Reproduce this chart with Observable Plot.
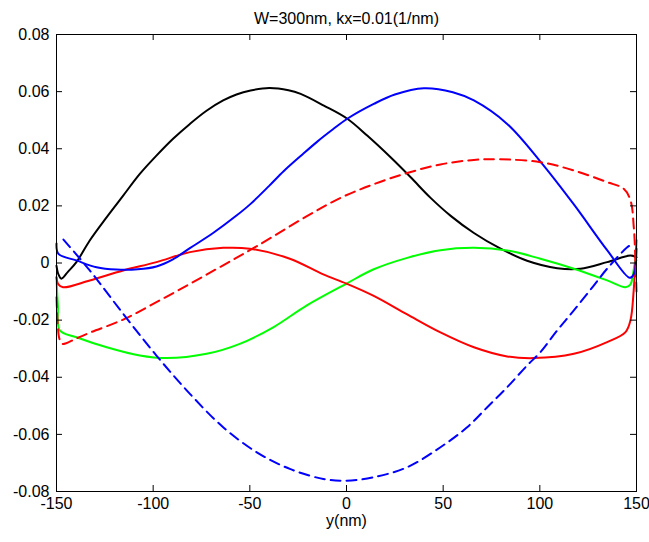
<!DOCTYPE html>
<html><head><meta charset="utf-8">
<script src="https://cdn.jsdelivr.net/npm/d3@7"></script>
<script src="https://cdn.jsdelivr.net/npm/@observablehq/plot@0.6"></script>
<style>body{margin:0;background:#fff}</style>
</head><body><div id="chart"></div>
<script>
const titleText = "W=300nm, kx=0.01(1/nm)";
const xLabel = "y(nm)";
const xTicks = [-150, -100, -50, 0, 50, 100, 150];
const yTicks = [-0.08, -0.06, -0.04, -0.02, 0, 0.02, 0.04, 0.06, 0.08];

// [y (nm), value]
const blackSolid = [[-150,-0.001],[-149,-0.004],[-147.5,-0.0055],[-144,-0.003],[-139.7,0.0003],[-132.8,0.0079],[-124.1,0.016],[-115.5,0.0236],[-106.9,0.0312],[-98.3,0.0376],[-89.7,0.0435],[-81,0.0487],[-72.4,0.0533],[-63.8,0.0569],[-56.9,0.059],[-49.6,0.0604],[-40,0.0613],[-30,0.0605],[-23.7,0.0592],[-11.7,0.0551],[0.4,0.0505],[10.7,0.0446],[22.8,0.037],[33.2,0.030],[43.5,0.0228],[53.9,0.0165],[65.9,0.0105],[79.7,0.005],[93.4,0.0008],[109,-0.0018],[121,-0.002],[134.8,0.0003],[146.9,0.0026],[150,0.002]];
const blueSolid = [[-150,0.0068],[-149,0.0032],[-139.7,0.0009],[-129.3,-0.0015],[-119,-0.0023],[-108,-0.0022],[-98.3,-0.0012],[-90,0.0012],[-81,0.0052],[-69,0.0105],[-56.9,0.0166],[-49.6,0.0207],[-40,0.027],[-32.4,0.0322],[-22.8,0.038],[-15.1,0.0425],[-7,0.0468],[0.4,0.0505],[14.1,0.0557],[25,0.059],[40,0.0612],[55,0.0598],[65.9,0.0569],[83.1,0.0487],[100.3,0.0355],[117.6,0.0205],[134.8,0.0045],[146.5,-0.0052],[148.5,-0.004],[150,0.005]];
const redSolid = [[-150,-0.005],[-149,-0.0075],[-146.6,-0.0085],[-132.8,-0.0061],[-115.5,-0.0026],[-98.3,0.0003],[-81,0.0038],[-63.8,0.0053],[-50,0.005],[-29.3,0.0015],[-12,-0.004],[0,-0.0072],[14.1,-0.0115],[31.4,-0.018],[48.6,-0.0243],[65.9,-0.0295],[83.1,-0.0327],[96.9,-0.0333],[117.6,-0.0318],[134.8,-0.0277],[144.3,-0.0242],[146.9,-0.020],[148.5,-0.01],[150,0.008]];
const greenSolid = [[-150,-0.005],[-149.3,-0.015],[-148.3,-0.0236],[-139.7,-0.026],[-124,-0.0295],[-106.9,-0.0324],[-93.1,-0.0333],[-72.4,-0.0318],[-55.2,-0.0283],[-37.9,-0.0225],[-20.7,-0.0149],[0,-0.0072],[14.1,-0.0022],[31.4,0.0018],[48.6,0.0045],[65.9,0.0053],[83.1,0.0044],[100.3,0.0015],[117.6,-0.002],[134.8,-0.0061],[144.3,-0.0085],[146.9,-0.0075],[149.5,0.0009],[150,0.001]];
const redDashed = [[-150,-0.012],[-149.4,-0.021],[-148.5,-0.0265],[-147,-0.0283],[-145,-0.0281],[-140,-0.0265],[-132.8,-0.0244],[-115.5,-0.0198],[-98.3,-0.0137],[-81,-0.0073],[-63.8,-0.0008],[-46.6,0.0058],[-20.7,0.0163],[-3.1,0.0228],[14.1,0.0276],[31.4,0.0315],[48.6,0.0345],[65.9,0.0361],[79.7,0.0363],[100.3,0.0353],[117.6,0.0324],[134.8,0.0283],[143.4,0.026],[146.9,0.0219],[148.6,0.0125],[149.5,0.0],[150,-0.01]];
const blueDashed = [[-146.4,0.0082],[-132.8,-0.0026],[-115.5,-0.0178],[-98.3,-0.0324],[-81,-0.0458],[-63.8,-0.0575],[-46.6,-0.0662],[-29.3,-0.0721],[-12,-0.0756],[0,-0.0762],[14.1,-0.075],[31.4,-0.0715],[48.6,-0.0645],[62.4,-0.0575],[72.8,-0.0505],[83.1,-0.0435],[93.4,-0.0359],[100.3,-0.0312],[109,-0.0236],[117.6,-0.0166],[127.9,-0.0079],[134.8,-0.002],[145.2,0.0055],[147.5,0.0065]];

const series = [
  {name:"black", pts:blackSolid, color:"#000000", dash:null},
  {name:"green", pts:greenSolid, color:"#00ff00", dash:null},
  {name:"red", pts:redSolid, color:"#ff0000", dash:null},
  {name:"blue", pts:blueSolid, color:"#0000ff", dash:null},
  {name:"redDashed", pts:redDashed, color:"#ff0000", dash:"10,6"},
  {name:"blueDashed", pts:blueDashed, color:"#0000ff", dash:"10,6"}
];

const W = 649, H = 542, mL = 56, mR = 13, mT = 34, mB = 51;
const plotW = W - mL - mR, plotH = H - mT - mB, tick = 6;
const fontSize = 16;

const lineMarks = series.map(s => Plot.line(s.pts, {
  x: d => d[0], y: d => d[1], stroke: s.color, strokeWidth: 2,
  strokeDasharray: s.dash, curve: "catmull-rom"
}));

const chart = Plot.plot({
  width: W, height: H,
  marginLeft: mL, marginRight: mR, marginTop: mT, marginBottom: mB,
  style: {fontFamily: "'Liberation Sans', Arial, sans-serif", fontSize: fontSize + "px", background: "#fff", color: "#000"},
  x: {domain: [-150, 150]},
  y: {domain: [-0.08, 0.08]},
  marks: [
    ...lineMarks,
    Plot.frame({stroke: "#000", strokeWidth: 1}),
    Plot.ruleX(xTicks, {x: d => d, y1: 0.08, y2: -0.08, insetTop: plotH - tick, stroke: "#000"}),
    Plot.ruleX(xTicks, {x: d => d, y1: 0.08, y2: -0.08, insetBottom: plotH - tick, stroke: "#000"}),
    Plot.ruleY(yTicks, {y: d => d, x1: -150, x2: 150, insetRight: plotW - tick, stroke: "#000"}),
    Plot.ruleY(yTicks, {y: d => d, x1: -150, x2: 150, insetLeft: plotW - tick, stroke: "#000"}),
    Plot.axisX(xTicks, {tickSize: 0, tickPadding: 6, label: null, fontSize, tickFormat: d => String(d)}),
    Plot.axisY(yTicks, {tickSize: 0, tickPadding: 7, label: null, fontSize, tickFormat: d => d === 0 ? "0" : d.toFixed(2)}),
    Plot.text([xLabel], {text: d => d, frameAnchor: "bottom", dy: 34, fontSize}),
    Plot.text([titleText], {text: d => d, frameAnchor: "top", dy: -22, fontSize})
  ]
});
document.getElementById("chart").appendChild(chart);
</script>
</body></html>
